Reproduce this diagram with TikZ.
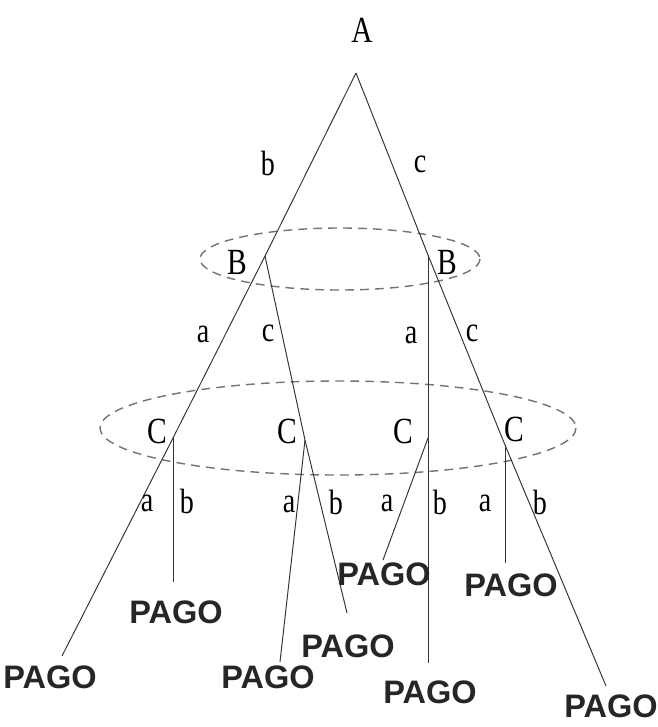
\documentclass[tikz,border=0pt]{standalone}
\usepackage{fontspec}
\setmainfont{Liberation Serif}
\setsansfont{Liberation Sans}
\usetikzlibrary{positioning, calc}
\colorlet{edgecol}{black!80}
\colorlet{setcol}{black!55}

\begin{document}
\begin{tikzpicture}[
    x=0.02cm, y=-0.02cm,
    edge/.style={draw=edgecol, line width=0.55pt},
    infoset/.style={draw=setcol, line width=0.8pt, dash pattern=on 5pt off 3.5pt},
    player/.style={font=\fontsize{21}{24}\selectfont, inner sep=0pt, xscale=0.8},
    move/.style={font=\fontsize{20}{23}\selectfont, inner sep=0pt, xscale=0.8},
    payoff/.style={font=\sffamily\bfseries\fontsize{18.5}{21}\selectfont, inner sep=0pt,
                   text=black!85},
]
\useasboundingbox (0,0) rectangle (658,727);

% ── decision points ──
\coordinate (A0) at (356, 73);
\coordinate (B1) at (265, 256);
\coordinate (B2) at (428, 255);
\coordinate (C1) at (173, 438);
\coordinate (C2) at (305, 440);
\coordinate (C3) at (428, 438);
\coordinate (C4) at (505, 445);

% ── free ends above the payoffs ──
\coordinate (e1) at (62, 656);
\coordinate (e2) at (173, 582);
\coordinate (e3) at (280, 662);
\coordinate (e4) at (347, 613);
\coordinate (e5) at (383, 560);
\coordinate (e6) at (428, 663);
\coordinate (e7) at (505, 563);
\coordinate (e8) at (606, 686);

% ── information sets ──
\draw[infoset] (340, 259) ellipse [x radius=140, y radius=31];
\draw[infoset] (338, 428) ellipse [x radius=238, y radius=47];

% ── player labels ──
\node[player] (lA)  at (362, 30)  {A};
\node[player] (lB1) at (237, 262) {B};
\node[player] (lB2) at (447, 262) {B};
\node[player] (lC1) at (157, 431) {C};
\node[player] (lC2) at (287, 431) {C};
\node[player] (lC3) at (403, 431) {C};
\node[player] (lC4) at (514, 429) {C};

% ── edges ──
\draw[edge] (A0) -- (B1);
\draw[edge] (A0) -- (B2);
\draw[edge] (B1) -- (C1);
\draw[edge] (B1) -- (C2);
\draw[edge] (B2) -- (C3);
\draw[edge] (B2) -- (C4);
\draw[edge] (C1) -- (e1);
\draw[edge] (C1) -- (e2);
\draw[edge] (C2) -- (e3);
\draw[edge] (C2) -- (e4);
\draw[edge] (C3) -- (e5);
\draw[edge] (C3) -- (e6);
\draw[edge] (C4) -- (e7);
\draw[edge] (C4) -- (e8);

% ── move labels ──
\node[move] (mb)  at (268, 163) {b};
\node[move] (mc)  at (420, 164) {c};
\node[move] (ma1) at (203, 334) {a};
\node[move] (mc1) at (268, 333) {c};
\node[move] (ma2) at (411, 335) {a};
\node[move] (mc2) at (472, 333) {c};
\node[move] (ma3) at (147, 503) {a};
\node[move] (mb3) at (187, 501) {b};
\node[move] (ma4) at (289, 504) {a};
\node[move] (mb4) at (336, 502) {b};
\node[move] (ma5) at (387, 503) {a};
\node[move] (mb5) at (440, 502) {b};
\node[move] (ma6) at (485, 503) {a};
\node[move] (mb6) at (540, 502) {b};

% ── payoffs ──
\node[payoff] (p1) at (50, 677)  {PAGO};
\node[payoff] (p2) at (176, 612) {PAGO};
\node[payoff] (p3) at (268, 677) {PAGO};
\node[payoff] (p4) at (348, 646) {PAGO};
\node[payoff] (p5) at (384, 574) {PAGO};
\node[payoff] (p6) at (430, 692) {PAGO};
\node[payoff] (p7) at (511, 585) {PAGO};
\node[payoff] (p8) at (611, 706) {PAGO};

\end{tikzpicture}
\end{document}
